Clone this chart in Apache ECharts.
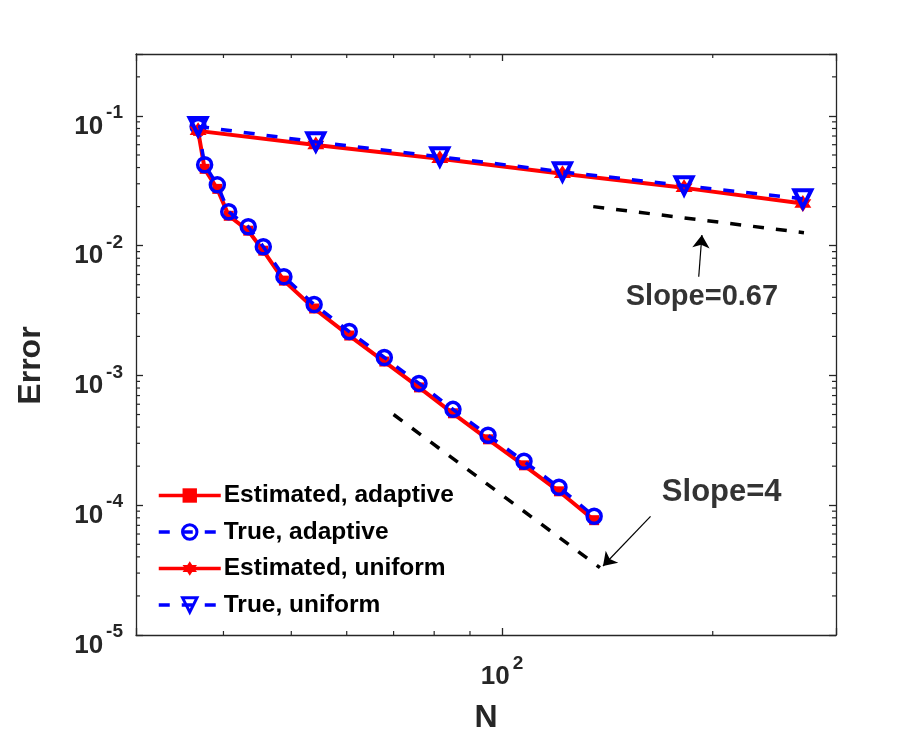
<!DOCTYPE html>
<html>
<head>
<meta charset="utf-8">
<script src="https://cdn.jsdelivr.net/npm/echarts@6/dist/echarts.min.js"></script>
<style>html,body{margin:0;padding:0;background:#fff;}#c{width:924px;height:749px;}</style>
</head>
<body>
<div id="c"></div>
<script>
// ---- data ----
const nAdaptive = [36.8, 37.6, 39.2, 40.7, 43.4, 45.6, 48.8, 53.9, 60.5, 67.9, 76.1, 85.1, 95.5, 107.5, 120.6, 135.4];
const estAdaptive = [0.0767, 0.0391, 0.0274, 0.0170, 0.01305, 0.00915, 0.00538, 0.00328, 0.00203, 0.00128, 0.000809, 0.000511, 0.000322, 0.000203, 0.000128, 0.0000767];
const trueAdaptive = [0.0830, 0.0420, 0.02945, 0.01826, 0.0140, 0.00982, 0.00577, 0.00352, 0.00218, 0.001376, 0.000868, 0.000548, 0.000346, 0.000218, 0.0001376, 0.0000823];
const nUniform = [36.8, 54.2, 81.5, 122, 182, 269];
const estUniform = [0.0767, 0.0598, 0.0467, 0.0358, 0.0279, 0.0211];
const trueUniform = [0.0830, 0.0631, 0.0484, 0.0371, 0.0290, 0.0230];
const slopeLowN = [135, 270];
const slopeLowE = [0.02, 0.0126];
const slopeHighN = [70, 138];
const slopeHighE = [5e-4, 3.3e-5];
const arrowLow = [[191, 0.00577], [193, 0.0121]];
const arrowHigh = [[163, 8.2e-5], [139.4, 3.4e-5]];
const textLow = {label: 'Slope=0.67', at: [193, 0.00405]};
const textHigh = {label: 'Slope=4', at: [206, 1.26e-4]};
const xRange = [30, 300];
const yRange = [1e-5, 0.3];
const xMinorTicks = [40, 50, 60, 70, 80, 90, 200];
const yMinorTicks = [2e-5, 3e-5, 4e-5, 5e-5, 6e-5, 7e-5, 8e-5, 9e-5,
  2e-4, 3e-4, 4e-4, 5e-4, 6e-4, 7e-4, 8e-4, 9e-4,
  2e-3, 3e-3, 4e-3, 5e-3, 6e-3, 7e-3, 8e-3, 9e-3,
  2e-2, 3e-2, 4e-2, 5e-2, 6e-2, 7e-2, 8e-2, 9e-2, 0.2];
const legendNames = ['Estimated, adaptive', 'True, adaptive', 'Estimated, uniform', 'True, uniform'];

// ---- styling ----
const FONT = 'Liberation Sans';
const AX = '#262626';
const RED = '#ff0000';
const BLUE = '#0000ff';
const DASH = [11, 12];
const hexagram = 'path://M50,0 L64.43,25 L93.3,25 L78.87,50 L93.3,75 L64.43,75 L50,100 L35.57,75 L6.7,75 L21.13,50 L6.7,25 L35.57,25 Z';

function zip(a, b) { return a.map((v, i) => [v, b[i]]); }
function powLabel(v) {
  const e = Math.round(Math.log10(v));
  if (Math.abs(v - Math.pow(10, e)) / v > 1e-6) return '';
  return '{b|10}{s|' + e + '}';
}
const richLabel = {
  b: {fontFamily: FONT, fontWeight: 'bold', fontSize: 26, color: AX, lineHeight: 36, verticalAlign: 'bottom'},
  s: {fontFamily: FONT, fontWeight: 'bold', fontSize: 19, color: AX, lineHeight: 14, verticalAlign: 'top', padding: [0, 0, 0, 3]}
};
const axisLineStyle = {color: AX, width: 1.3};

function baseAxis(extra) {
  return Object.assign({
    type: 'log', logBase: 10,
    axisLine: {show: true, onZero: false, lineStyle: axisLineStyle},
    axisTick: {show: true, inside: true, length: 7, lineStyle: {color: AX, width: 1.3}},
    minorTick: {show: false},
    splitLine: {show: false},
    minorSplitLine: {show: false}
  }, extra);
}

const minorLen = 4;
function minorX(params, api) {
  const cs = params.coordSys;
  const x = api.coord([api.value(0), yRange[0]])[0];
  const st = {stroke: AX, lineWidth: 1.2};
  return {type: 'group', children: [
    {type: 'line', shape: {x1: x, y1: cs.y + cs.height, x2: x, y2: cs.y + cs.height - minorLen}, style: st},
    {type: 'line', shape: {x1: x, y1: cs.y, x2: x, y2: cs.y + minorLen}, style: st}
  ]};
}
function minorY(params, api) {
  const cs = params.coordSys;
  const y = api.coord([xRange[0], api.value(1)])[1];
  const st = {stroke: AX, lineWidth: 1.2};
  return {type: 'group', children: [
    {type: 'line', shape: {x1: cs.x, y1: y, x2: cs.x + minorLen, y2: y}, style: st},
    {type: 'line', shape: {x1: cs.x + cs.width, y1: y, x2: cs.x + cs.width - minorLen, y2: y}, style: st}
  ]};
}
function arrowLine(pts) {
  return {
    silent: true, symbol: ['none', 'arrow'],
    lineStyle: {color: '#000', width: 1.2, type: 'solid'}, label: {show: false},
    data: [[{coord: pts[0], symbol: 'none', symbolSize: 1}, {coord: pts[1], symbol: 'arrow', symbolSize: 13}]]
  };
}

const chart = echarts.init(document.getElementById('c'), null, {renderer: 'canvas'});
const option = {
  animation: false,
  backgroundColor: '#fff',
  grid: {left: 136, right: 88, top: 54, bottom: 114, containLabel: false, outerBoundsMode: 'none'},
  legend: {
    show: true,
    data: [
      {name: legendNames[0]},
      {name: legendNames[1], itemStyle: {borderWidth: 3}},
      {name: legendNames[2]},
      {name: legendNames[3], itemStyle: {borderWidth: 3}}
    ],
    orient: 'vertical',
    left: 152, top: 478,
    itemWidth: 62, itemHeight: 18, itemGap: 11.5,
    lineStyle: {width: 3.5},
    textStyle: {fontFamily: FONT, fontWeight: 'bold', fontSize: 24.5, color: '#000', lineHeight: 24, padding: [0, 0, 0, -2]},
    selectedMode: false
  },
  xAxis: [
    baseAxis({
      position: 'bottom', min: xRange[0], max: xRange[1],
      axisLabel: {show: true, formatter: powLabel, rich: richLabel, margin: 19},
      name: 'N', nameLocation: 'middle', nameGap: 67,
      nameTextStyle: {fontFamily: FONT, fontWeight: 'bold', fontSize: 32, color: AX}
    }),
    baseAxis({position: 'top', min: xRange[0], max: xRange[1], axisLabel: {show: false}})
  ],
  yAxis: [
    baseAxis({
      position: 'left', min: yRange[0], max: yRange[1],
      axisLabel: {show: true, formatter: powLabel, rich: richLabel, margin: 13, padding: [11, 0, 0, 0]},
      name: 'Error', nameLocation: 'middle', nameGap: 89,
      nameTextStyle: {fontFamily: FONT, fontWeight: 'bold', fontSize: 32, color: AX, padding: [0, 42, 0, 0]}
    }),
    baseAxis({position: 'right', min: yRange[0], max: yRange[1], axisLabel: {show: false}})
  ],
  series: [
    {type: 'custom', name: 'xminor', silent: true, renderItem: minorX, data: xMinorTicks.map(v => [v, yRange[0]]), encode: {x: 0, y: 1}, z: 1},
    {type: 'custom', name: 'yminor', silent: true, renderItem: minorY, data: yMinorTicks.map(v => [xRange[0], v]), encode: {x: 0, y: 1}, z: 1},
    {
      type: 'line', name: 'slope067', silent: true, data: zip(slopeLowN, slopeLowE), symbol: 'none',
      lineStyle: {color: '#000', width: 3.5, type: DASH}, z: 2,
      markLine: arrowLine(arrowLow)
    },
    {
      type: 'line', name: 'slope4', silent: true, data: zip(slopeHighN, slopeHighE), symbol: 'none',
      lineStyle: {color: '#000', width: 3.5, type: DASH}, z: 2,
      markLine: arrowLine(arrowHigh)
    },
    {
      type: 'scatter', name: 'notes', silent: true, symbolSize: 0, z: 5,
      data: [
        {name: textLow.label, value: textLow.at, label: {fontSize: 29}},
        {name: textHigh.label, value: textHigh.at, label: {fontSize: 31}}
      ],
      label: {show: true, position: 'inside', formatter: p => p.name, fontFamily: FONT, fontWeight: 'bold', fontSize: 30, color: '#000'}
    },
    {
      type: 'line', name: legendNames[0], data: zip(nAdaptive, estAdaptive),
      symbol: 'rect', symbolSize: 10, z: 3,
      lineStyle: {color: RED, width: 4}, itemStyle: {color: RED, borderWidth: 0}
    },
    {
      type: 'line', name: legendNames[1], data: zip(nAdaptive, trueAdaptive),
      symbol: 'circle', symbolSize: 14, z: 4,
      lineStyle: {color: BLUE, width: 3.5, type: DASH},
      itemStyle: {color: 'rgba(0,0,0,0)', borderColor: BLUE, borderWidth: 3.5}
    },
    {
      type: 'line', name: legendNames[2], data: zip(nUniform, estUniform),
      symbol: hexagram, symbolSize: 17, z: 5,
      lineStyle: {color: RED, width: 4}, itemStyle: {color: RED, borderWidth: 0}
    },
    {
      type: 'line', name: legendNames[3], data: zip(nUniform, trueUniform),
      symbol: 'triangle', symbolRotate: 180, symbolSize: 17, z: 6,
      lineStyle: {color: BLUE, width: 3.5, type: DASH},
      itemStyle: {color: 'rgba(0,0,0,0)', borderColor: BLUE, borderWidth: 4}
    }
  ]
};
chart.setOption(option);
</script>
</body>
</html>
